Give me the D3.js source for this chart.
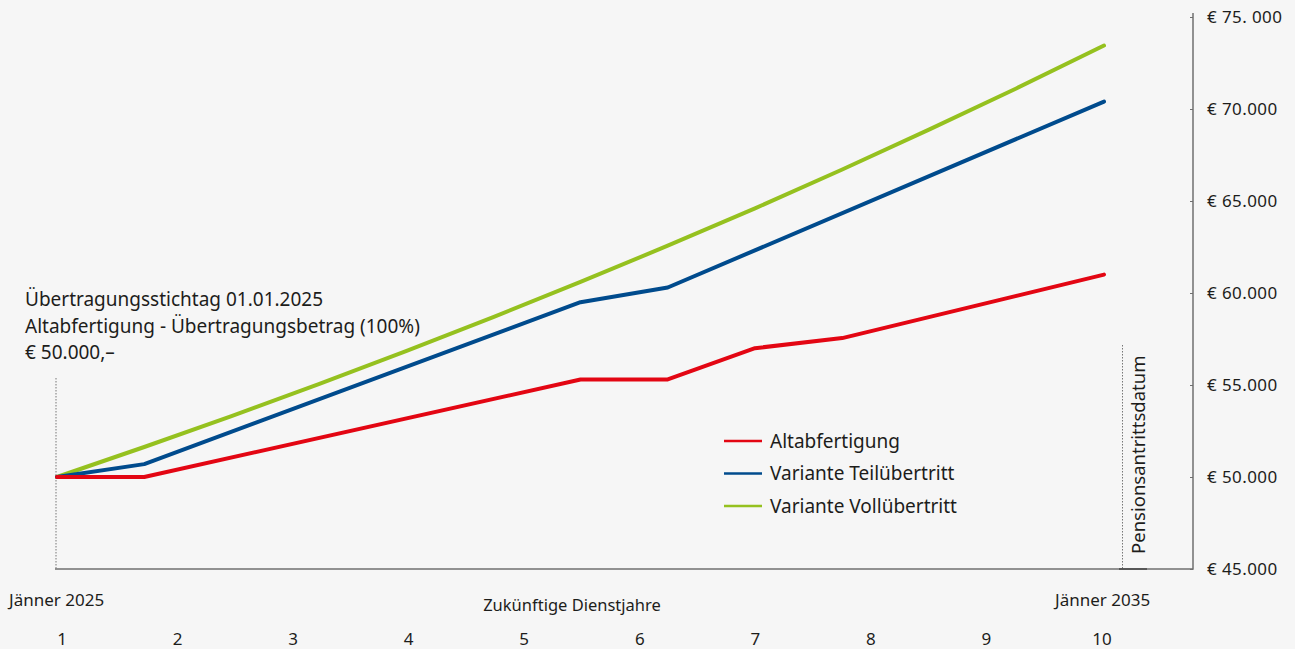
<!DOCTYPE html>
<html><head><meta charset="utf-8">
<script src="https://cdn.jsdelivr.net/npm/d3@7"></script>
<style>
html,body{margin:0;padding:0;background:#f6f6f6;}
svg{display:block;font-family:"Noto Sans",sans-serif;}
</style></head>
<body>
<svg id="chart" width="1295" height="649"></svg>
<script>
// ---- data (steps of 10 months from Jänner 2025 to Jänner 2035) ----
const stepsAlt = [0, 1, 6, 7, 8, 9, 12];
const valuesAlt = [50000, 50000, 55300, 55300, 57000, 57550, 61000];
const stepsTeil = [0, 1, 6, 7, 12];
const valuesTeil = [50000, 50700, 59500, 60300, 70400];
const stepsVoll = [0, 1, 2, 3, 4, 5, 6, 7, 8, 9, 10, 11, 12];
const valuesVoll = [50000, 51630, 53310, 55050, 56840, 58690, 60600, 62570, 64600, 66710, 68890, 71130, 73450];
const seriesNames = ["Altabfertigung", "Variante Teilübertritt", "Variante Vollübertritt"];
const seriesColors = ["#e30613", "#004b8d", "#95c11f"];
const yTicks = [45000, 50000, 55000, 60000, 65000, 70000, 75000];
const yTickLabels = ["€ 45.000", "€ 50.000", "€ 55.000", "€ 60.000", "€ 65.000", "€ 70.000", "€ 75. 000"];
const yearNumbers = [1, 2, 3, 4, 5, 6, 7, 8, 9, 10];
const startLabel = "Jänner 2025";
const endLabel = "Jänner 2035";
const xTitle = "Zukünftige Dienstjahre";
const annotationLines = ["Übertragungsstichtag 01.01.2025", "Altabfertigung - Übertragungsbetrag (100%)", "€ 50.000,–"];
const pensionLabel = "Pensionsantrittsdatum";

const svg = d3.select("#chart");
const textColor = "#1d1d1b";

const x = d3.scaleLinear().domain([0, 12]).range([57, 1104]);
const y = d3.scaleLinear().domain([45000, 75000]).range([569, 17]);
const yearScale = d3.scalePoint().domain(yearNumbers).range([62, 1102]);

// axes frame
svg.append("line").attr("x1", 55).attr("x2", 1193).attr("y1", 569).attr("y2", 569)
  .attr("stroke", "#6f6f6f").attr("stroke-width", 1.5);
svg.append("line").attr("x1", 1193).attr("x2", 1193).attr("y1", 13).attr("y2", 569.75)
  .attr("stroke", "#6f6f6f").attr("stroke-width", 1.5);

const yAxis = d3.axisRight(y).tickValues(yTicks)
  .tickFormat((d, i) => yTickLabels[i]).tickSizeInner(-3).tickSizeOuter(0).tickPadding(14);
const gy = svg.append("g").attr("transform", "translate(1193,0)").call(yAxis);
gy.select(".domain").remove();
gy.selectAll(".tick line").attr("stroke", "#6f6f6f");
gy.selectAll(".tick text").attr("fill", textColor).style("font-size", "17px")
  .style("letter-spacing", "0.4px")
  .style("font-family", "'Noto Sans',sans-serif");

// dotted reference lines
svg.append("line").attr("x1", 56).attr("x2", 56).attr("y1", 378).attr("y2", 569)
  .attr("stroke", "#777").attr("stroke-width", 1).attr("stroke-dasharray", "1.5,1.5");
svg.append("line").attr("x1", 1122.5).attr("x2", 1122.5).attr("y1", 345).attr("y2", 569)
  .attr("stroke", "#777").attr("stroke-width", 1).attr("stroke-dasharray", "1.5,1.5");
svg.append("line").attr("x1", 1119).attr("x2", 1147).attr("y1", 569).attr("y2", 569)
  .attr("stroke", "#444").attr("stroke-width", 1.5);

// series lines
const line = d3.line().x(d => x(d[0])).y(d => y(d[1]));
const series = [
  d3.zip(stepsVoll, valuesVoll),
  d3.zip(stepsTeil, valuesTeil),
  d3.zip(stepsAlt, valuesAlt)
];
const colorsOrdered = [seriesColors[2], seriesColors[1], seriesColors[0]];
svg.selectAll("path.series").data(series).join("path").attr("class", "series")
  .attr("d", line).attr("fill", "none")
  .attr("stroke", (d, i) => colorsOrdered[i]).attr("stroke-width", 4)
  .attr("stroke-linejoin", "round").attr("stroke-linecap", "round");

// legend
const lg = svg.append("g");
seriesNames.forEach((n, i) => {
  const yy = 441 + i * 32.5;
  lg.append("line").attr("x1", 724).attr("x2", 762).attr("y1", yy).attr("y2", yy)
    .attr("stroke", seriesColors[i]).attr("stroke-width", 2.5);
  lg.append("text").attr("x", 770).attr("y", yy).attr("dy", "0.35em")
    .attr("fill", textColor).style("font-size", "19px").text(n);
});

// annotation
annotationLines.forEach((t, i) => {
  svg.append("text").attr("x", 25).attr("y", 306 + i * 26.5)
    .attr("fill", textColor).style("font-size", "19px").text(t);
});

// pension label
svg.append("text").attr("transform", "translate(1145,554) rotate(-90)")
  .attr("fill", textColor).style("font-size", "18.5px").text(pensionLabel);

// bottom labels
svg.append("text").attr("x", 9).attr("y", 606).attr("fill", textColor)
  .style("font-size", "17px").text(startLabel);
svg.append("text").attr("x", 1055).attr("y", 606).attr("fill", textColor)
  .style("font-size", "17px").text(endLabel);
svg.append("text").attr("x", 572).attr("y", 611).attr("text-anchor", "middle")
  .attr("fill", textColor).style("font-size", "16.5px").text(xTitle);

svg.selectAll("text.year").data(yearNumbers).join("text").attr("class", "year")
  .attr("x", d => yearScale(d)).attr("y", 645).attr("text-anchor", "middle")
  .attr("fill", textColor).style("font-size", "17px").text(d => d);
</script>
</body></html>
